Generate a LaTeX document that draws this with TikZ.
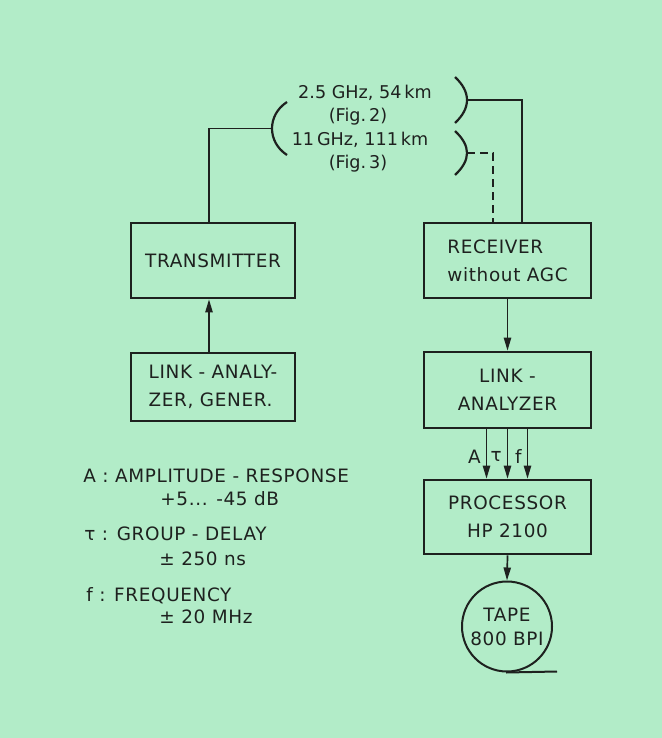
\documentclass[tikz,border=0pt]{standalone}
\usepackage{fontspec}
\setmainfont[LetterSpace=3.5]{DejaVu Sans}
\newfontfamily\antfont{DejaVu Sans}
\usetikzlibrary{arrows.meta}
\definecolor{bg}{RGB}{178,236,200}
\definecolor{ink}{RGB}{30,33,31}
\begin{document}
\begin{tikzpicture}[x=0.5pt,y=-0.5pt,
  every node/.style={text=ink},
  box/.style={draw=ink,line width=1.3pt,minimum width=82pt,minimum height=37.5pt,inner sep=0pt,
    font=\fontsize{9.2}{14}\selectfont},
  conn/.style={draw=ink,line width=0.85pt},
  arr/.style={conn,-{Triangle[length=6.5pt,width=3.6pt]}},
  brk/.style={draw=ink,line width=1.1pt},
  lbl/.style={font=\fontsize{9.2}{11.5}\selectfont,inner sep=0pt},
  antlbl/.style={font=\antfont\fontsize{8.8}{11.5}\selectfont,inner sep=0pt}]
\fill[bg] (0,0) rectangle (662,738);
\useasboundingbox (0,0) rectangle (662,738);

% boxes
\node[box] (tx) at (213,260.5) {TRANSMITTER};
\node[box,align=left,minimum height=34pt] (gen) at (213,387) {LINK - ANALY-\\ZER, GENER.};
\node[box,align=left,minimum width=83.5pt] (rx) at (507.5,260.5) {RECEIVER\\without AGC};
\node[box,align=center,minimum width=83.5pt,minimum height=38pt] (la) at (507.5,390) {LINK -\\ANALYZER};
\node[box,align=center,minimum width=83.5pt,minimum height=37pt] (proc) at (507.5,517) {PROCESSOR\\HP 2100};
\node[draw=ink,line width=1pt,circle,minimum size=45pt,inner sep=0pt,align=center,
  font=\fontsize{9.2}{12}\selectfont] (tape) at (507,626.5) {TAPE\\800 BPI};
\coordinate (tail) at (557,671.5);

% antennas
\draw[brk] (287,102) .. controls (267,115) and (267,142) .. (287,155);
\coordinate (a1) at (272,128.5);
\draw[brk] (455,77) .. controls (471,92) and (471,108) .. (455,123);
\coordinate (b1) at (467,100);
\draw[brk] (455,131) .. controls (471,146) and (471,160) .. (455,175);
\coordinate (b2) at (467,153);

\node[antlbl,anchor=base] (l1) at (365,98) {2.5 GHz, 54\,km};
\node[antlbl,anchor=base] (l2) at (358,121) {(Fig.\,2)};
\node[antlbl,anchor=base] (l3) at (360,145) {11\,GHz, 111\,km};
\node[antlbl,anchor=base] (l4) at (358,168) {(Fig.\,3)};

% connectors
\draw[conn] ([xshift=-2pt]tx.north) |- (a1);
\draw[conn] (b1) -| ([xshift=7.25pt]rx.north);
\draw[conn,dash pattern=on 4pt off 2.5pt] (b2) -| ([xshift=-7.25pt]rx.north);
\draw[arr] ([xshift=-2pt]gen.north) -- ([xshift=-2pt]tx.south);
\draw[arr] (rx.south) -- (la.north);
\draw[arr] ([xshift=-10.5pt]la.south) -- node[lbl,left=2.5pt,pos=0.55] (lA) {A} ([xshift=-10.5pt]proc.north);
\draw[arr] (la.south) -- node[lbl,left=2.5pt,pos=0.55] (lt) {τ} (proc.north);
\draw[arr] ([xshift=10pt]la.south) -- node[lbl,left=2.5pt,pos=0.55] (lf) {f} ([xshift=10pt]proc.north);
\draw[arr] (proc.south) -- (tape.north);
\draw[conn,line width=1pt] ([xshift=-0.5pt]tape.south) -- (tail);

% legend
\node[lbl,anchor=base west] (g1) at (83,482) {A : AMPLITUDE - RESPONSE};
\node[lbl,anchor=base west] (g2) at (160,505) {+5... -45 dB};
\node[lbl,anchor=base west] (g3) at (84,540) {τ : GROUP - DELAY};
\node[lbl,anchor=base west] (g4) at (159,565) {± 250 ns};
\node[lbl,anchor=base west] (g5) at (86,601) {f : FREQUENCY};
\node[lbl,anchor=base west] (g6) at (159,623) {± 20 MHz};
\end{tikzpicture}
\end{document}
